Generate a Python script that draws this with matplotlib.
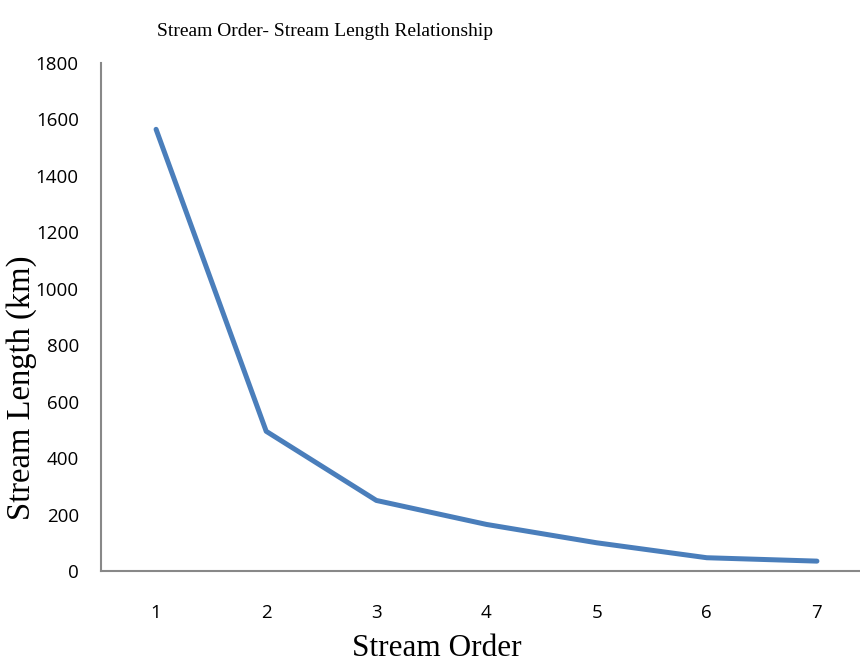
import matplotlib
matplotlib.use("Agg")
import matplotlib.pyplot as plt

stream_order = [1, 2, 3, 4, 5, 6, 7]
stream_length = [1565, 495, 250, 165, 100, 47, 35]
y_ticks = [0, 200, 400, 600, 800, 1000, 1200, 1400, 1600, 1800]

fig = plt.figure(figsize=(8.6, 6.62), dpi=100)
ax = fig.add_axes([101/860, 1 - 571/662, 771/860, (571 - 63)/662])

ax.plot(stream_order, stream_length, color="#4a7ebb", lw=3.6,
        solid_capstyle="round", solid_joinstyle="round")

ax.set_xlim(0.5, 7.5)
ax.set_ylim(0, 1800)
ax.set_yticks(y_ticks)
ax.set_xticks(stream_order)

for s in ["top", "right"]:
    ax.spines[s].set_visible(False)
for s in ["left", "bottom"]:
    ax.spines[s].set_color("#888888")
    ax.spines[s].set_linewidth(1.5)

ax.tick_params(axis="both", length=0, labelsize=13.5)
ax.tick_params(axis="y", pad=16)
ax.tick_params(axis="x", pad=24)
for lab in ax.get_xticklabels() + ax.get_yticklabels():
    lab.set_family("Open Sans")

fig.text(325/860, 1 - 32/662, "Stream Order- Stream Length Relationship",
         family="Liberation Serif", fontsize=14, ha="center", va="center")
fig.text(437/860, 1 - 648/662, "Stream Order",
         family="Liberation Serif", fontsize=22.5, ha="center", va="center")
fig.text(22/860, 1 - 388/662, "Stream Length (km)", rotation=90,
         family="Liberation Serif", fontsize=23.5, ha="center", va="center")

fig.savefig("out.png", dpi=100)
